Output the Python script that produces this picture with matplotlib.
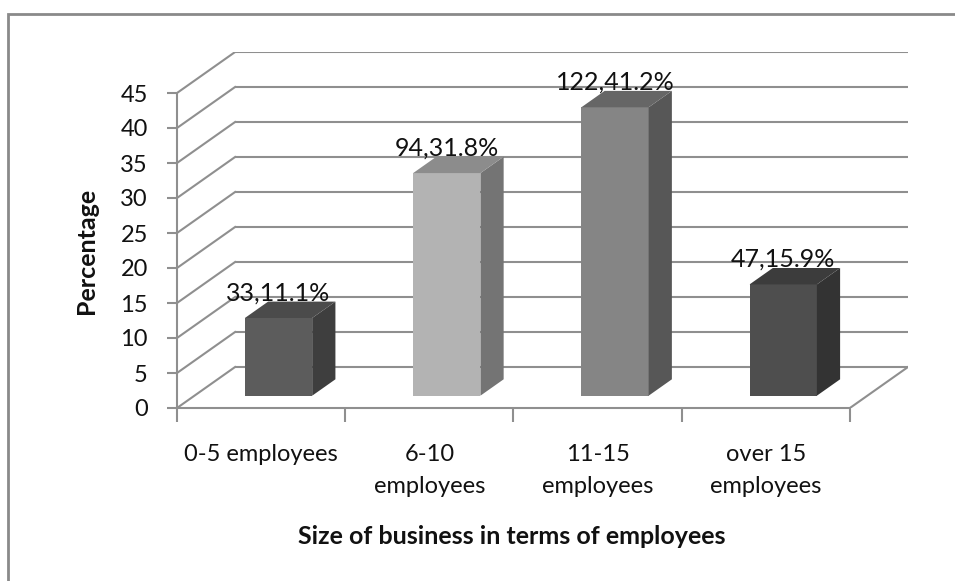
import matplotlib
matplotlib.use("Agg")
import matplotlib.pyplot as plt
from matplotlib.patches import Polygon, Rectangle

# ---- data ----
categories = ["0-5 employees", "6-10\nemployees", "11-15\nemployees", "over 15\nemployees"]
counts = [33, 94, 122, 47]
percentages = [11.1, 31.8, 41.2, 15.9]
yticks = [0, 5, 10, 15, 20, 25, 30, 35, 40, 45]

front_colors = ["#5c5c5c", "#b3b3b3", "#858585", "#4e4e4e"]
side_colors = ["#3e3e3e", "#747474", "#575757", "#333333"]
top_colors = ["#4b4b4b", "#8c8c8c", "#666666", "#3c3c3c"]

plt.rcParams['font.family'] = ['Lato', 'DejaVu Sans']

GRID = "#8f8f8f"
TXT = "#111111"
DX = 58 / 168.0       # depth offset in category units
DY = 41 / 7.0         # depth offset in value units
D0, D1 = 0.3, 0.7     # bar depth range (fraction of wall depth)
HW = 0.2              # bar half width

fig = plt.figure(figsize=(9.55, 5.81), dpi=100)
ax = fig.add_axes([177 / 955, 173 / 581, (908 - 177) / 955, (408 - 52) / 581])
n = len(categories)
ymax = yticks[-1]
ax.set_xlim(0, n + DX)
ax.set_ylim(0, ymax + DY)

# back wall gridlines, left wall diagonals
for v in yticks:
    ax.plot([DX, n + DX], [v + DY, v + DY], color=GRID, lw=1.5, zorder=1, solid_capstyle='butt')
    ax.plot([0, DX], [v, v + DY], color=GRID, lw=1.5, zorder=1)
# floor right edge
ax.plot([n, n + DX], [0, DY], color=GRID, lw=1.5, zorder=1)

# bars
centers = [i + 0.5 for i in range(n)]
xs = [c + D0 * DX for c in centers]
ax.bar(xs, percentages, width=2 * HW, bottom=D0 * DY, color=front_colors, zorder=4, linewidth=0)
for i, (c, v) in enumerate(zip(xs, percentages)):
    x0, x1 = c - HW, c + HW
    b = D0 * DY
    t = v + D0 * DY
    ddx = (D1 - D0) * DX
    ddy = (D1 - D0) * DY
    ax.add_patch(Polygon([(x1, b), (x1 + ddx, b + ddy), (x1 + ddx, t + ddy), (x1, t)],
                         closed=True, facecolor=side_colors[i], edgecolor='none', zorder=4))
    ax.add_patch(Polygon([(x0, t), (x1, t), (x1 + ddx, t + ddy), (x0 + ddx, t + ddy)],
                         closed=True, facecolor=top_colors[i], edgecolor='none', zorder=4))
    ax.text(c, v + D1 * DY + 0.2, f"{counts[i]},{percentages[i]}%", ha='center', va='baseline',
            fontsize=18, color=TXT, zorder=6)

# axes
for s in ['top', 'right']:
    ax.spines[s].set_visible(False)
ax.spines['left'].set_bounds(0, ymax)
ax.spines['bottom'].set_bounds(0, n)
for s in ['left', 'bottom']:
    ax.spines[s].set_color(GRID)
    ax.spines[s].set_linewidth(1.5)
    ax.spines[s].set_zorder(2)

ax.set_yticks(yticks)
ax.set_yticklabels([str(v) for v in yticks])
ax.tick_params(axis='y', direction='out', length=7, width=1.5, color=GRID, pad=14,
               labelsize=17, labelcolor=TXT)
ax.set_xticks(list(range(n + 1)))
ax.set_xticklabels([])
ax.tick_params(axis='x', which='major', direction='out', length=10, width=1.5, color=GRID)
ax.set_xticks(centers, minor=True)
ax.set_xticklabels(categories, minor=True, linespacing=1.65)
ax.tick_params(axis='x', which='minor', length=0, pad=26, labelsize=17, labelcolor=TXT)
ax.patch.set_visible(False)

fig.text(512 / 955, 1 - 537 / 581, "Size of business in terms of employees", ha='center', va='center',
         fontsize=18, fontweight='bold', color=TXT)
fig.text(86 / 955, 1 - 251 / 581, "Percentage", ha='center', va='center', rotation=90,
         fontsize=18, fontweight='bold', color=TXT)

# outer border (top and left visible)
fig.add_artist(Rectangle((8 / 955, -0.1), 1.2, 1 - 14 / 581 + 0.1, transform=fig.transFigure,
                         fill=False, edgecolor='#8a8a8a', linewidth=2))

fig.savefig("out.png", dpi=100)
